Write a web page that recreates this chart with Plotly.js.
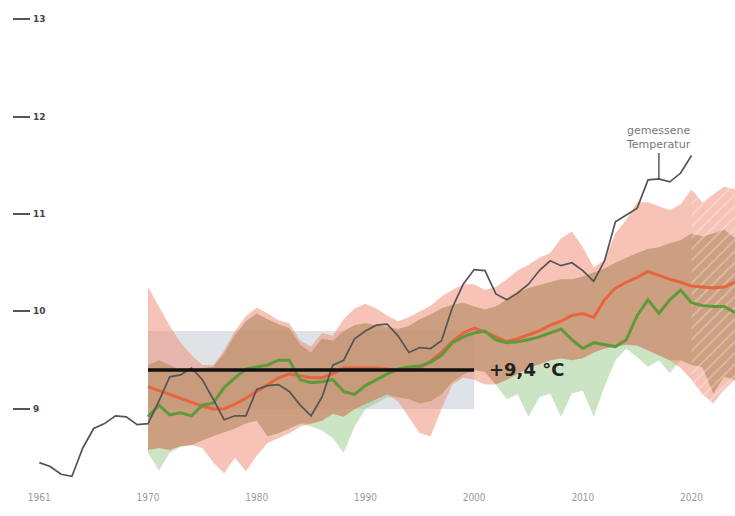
<!DOCTYPE html>
<html><head><meta charset="utf-8">
<script src="https://cdn.plot.ly/plotly-3.0.1.min.js"></script>
<style>html,body{margin:0;padding:0;background:#fff}#chart{width:735px;height:516px}</style>
</head><body><div id="chart"></div>
<script>
// ---------- data ----------
const xTickVals = [1960, 1970, 1980, 1990, 2000, 2010, 2020];
const xTickText = ['1961', '1970', '1980', '1990', '2000', '2010', '2020'];
const yTickVals = [9, 10, 11, 12, 13];

const measuredFirstYear = 1960;
const measured = [8.45, 8.41, 8.33, 8.31, 8.60, 8.80, 8.85, 8.93, 8.92, 8.84,
  8.85, 9.08, 9.33, 9.35, 9.42, 9.30, 9.10, 8.89, 8.93, 8.93,
  9.20, 9.24, 9.25, 9.18, 9.04, 8.93, 9.12, 9.45, 9.50, 9.72,
  9.80, 9.86, 9.87, 9.75, 9.58, 9.63, 9.62, 9.70, 10.04, 10.28,
  10.43, 10.42, 10.18, 10.12, 10.19, 10.28, 10.42, 10.52, 10.47, 10.50,
  10.42, 10.31, 10.52, 10.92, 10.99, 11.06, 11.35, 11.36, 11.33, 11.42,
  11.60];

const modelFirstYear = 1970;
const redMean = [9.23, 9.19, 9.15, 9.11, 9.07, 9.03, 9.00, 9.00, 9.05, 9.11,
  9.18, 9.25, 9.32, 9.36, 9.34, 9.32, 9.32, 9.36, 9.42, 9.42,
  9.42, 9.42, 9.41, 9.40, 9.40, 9.42, 9.49, 9.58, 9.69, 9.78,
  9.83, 9.79, 9.74, 9.69, 9.72, 9.76, 9.80, 9.86, 9.90, 9.96,
  9.98, 9.94, 10.12, 10.24, 10.30, 10.35, 10.41, 10.37, 10.33, 10.30,
  10.26, 10.25, 10.24, 10.25, 10.30];
const redHi = [10.25, 10.05, 9.85, 9.68, 9.55, 9.45, 9.45, 9.60, 9.80, 9.95,
  10.04, 9.98, 9.91, 9.88, 9.70, 9.64, 9.78, 9.75, 9.92, 10.03,
  10.08, 10.03, 9.96, 9.90, 9.94, 10.00, 10.06, 10.15, 10.22, 10.28,
  10.28, 10.22, 10.25, 10.33, 10.42, 10.48, 10.55, 10.60, 10.75, 10.82,
  10.66, 10.45, 10.53, 10.80, 10.94, 11.12, 11.12, 11.08, 11.04, 11.10,
  11.25, 11.12, 11.20, 11.28, 11.25];
const redLo = [8.58, 8.60, 8.58, 8.62, 8.63, 8.60, 8.45, 8.34, 8.50, 8.36,
  8.52, 8.65, 8.70, 8.75, 8.82, 8.85, 8.88, 8.95, 8.92, 9.00,
  9.05, 9.10, 9.15, 9.08, 8.92, 8.75, 8.72, 9.00, 9.25, 9.32,
  9.30, 9.25, 9.25, 9.30, 9.36, 9.42, 9.46, 9.50, 9.52, 9.50,
  9.52, 9.58, 9.62, 9.64, 9.66, 9.65, 9.60, 9.55, 9.50, 9.42,
  9.30, 9.15, 9.06, 9.20, 9.30];

const greenMean = [8.92, 9.04, 8.94, 8.96, 8.93, 9.04, 9.06, 9.22, 9.32, 9.41,
  9.43, 9.45, 9.50, 9.50, 9.30, 9.27, 9.28, 9.30, 9.18, 9.15,
  9.24, 9.30, 9.36, 9.41, 9.43, 9.44, 9.48, 9.55, 9.68, 9.74,
  9.78, 9.80, 9.71, 9.68, 9.69, 9.71, 9.74, 9.78, 9.82, 9.71,
  9.62, 9.68, 9.66, 9.64, 9.71, 9.96, 10.12, 9.98, 10.12, 10.22,
  10.09, 10.06, 10.05, 10.05, 9.99];
const greenHi = [9.45, 9.50, 9.45, 9.40, 9.38, 9.42, 9.43, 9.57, 9.76, 9.90,
  9.98, 9.92, 9.87, 9.83, 9.66, 9.58, 9.72, 9.70, 9.80, 9.86,
  9.88, 9.86, 9.84, 9.82, 9.85, 9.92, 9.97, 10.03, 10.07, 10.09,
  10.05, 10.02, 10.05, 10.12, 10.19, 10.24, 10.27, 10.30, 10.33, 10.33,
  10.36, 10.40, 10.44, 10.50, 10.55, 10.60, 10.64, 10.66, 10.70, 10.73,
  10.80, 10.77, 10.80, 10.84, 10.75];
const greenLo = [8.55, 8.37, 8.55, 8.61, 8.63, 8.68, 8.72, 8.76, 8.80, 8.85,
  8.88, 8.72, 8.75, 8.80, 8.85, 8.82, 8.78, 8.70, 8.55, 8.82,
  9.00, 9.06, 9.12, 9.12, 9.10, 9.06, 9.08, 9.15, 9.28, 9.35,
  9.40, 9.38, 9.25, 9.10, 9.15, 8.92, 9.12, 9.16, 8.92, 9.16,
  9.19, 8.92, 9.23, 9.50, 9.62, 9.53, 9.43, 9.50, 9.37, 9.50,
  9.45, 9.43, 9.16, 9.33, 9.30];

const refPeriod = [1970, 2000];
const refRange = [9.0, 9.8];
const refMean = 9.4;
const refLabel = '+9,4 °C';
const measuredLabel = 'gemessene<br>Temperatur';
const measuredLabelYear = 2017;
const hatchFromYear = 2020;

// ---------- derived (library input) ----------
const yrs = (first, n) => Array.from({length: n}, (_, i) => first + i);
const mYears = yrs(measuredFirstYear, measured.length);
const sYears = yrs(modelFirstYear, redMean.length);
const ovLo = sYears.map((_, i) => Math.max(redLo[i], greenLo[i]));
const ovHi = sYears.map((_, i) => Math.max(ovLo[i], Math.min(redHi[i], greenHi[i])));
const hIdx = sYears.map((y, i) => y >= hatchFromYear ? i : -1).filter(i => i >= 0);
const hYears = hIdx.map(i => sYears[i]);
const hLo = hIdx.map(i => Math.min(redLo[i], greenLo[i]));
const hHi = hIdx.map(i => Math.max(redHi[i], greenHi[i]));

const noLine = {width: 0};
const base = {type: 'scatter', mode: 'lines', hoverinfo: 'skip', showlegend: false};

const traces = [
  Object.assign({}, base, {x: sYears, y: greenLo, line: noLine}),
  Object.assign({}, base, {x: sYears, y: greenHi, line: noLine, fill: 'tonexty', fillcolor: 'rgba(140,195,125,0.45)'}),
  Object.assign({}, base, {x: sYears, y: redLo, line: noLine}),
  Object.assign({}, base, {x: sYears, y: redHi, line: noLine, fill: 'tonexty', fillcolor: 'rgba(238,135,110,0.5)'}),
  Object.assign({}, base, {x: sYears, y: ovLo, line: noLine}),
  Object.assign({}, base, {x: sYears, y: ovHi, line: noLine, fill: 'tonexty', fillcolor: 'rgba(190,140,105,0.55)'}),
  Object.assign({}, base, {x: hYears, y: hLo, line: noLine}),
  Object.assign({}, base, {x: hYears, y: hHi, line: noLine, fill: 'tonexty', fillcolor: 'rgba(0,0,0,0)',
    fillpattern: {shape: '/', fgcolor: 'rgba(255,255,255,0.33)', bgcolor: 'rgba(0,0,0,0)', size: 8, solidity: 0.2}}),
  Object.assign({}, base, {x: sYears, y: redMean, line: {color: '#e8643e', width: 3}}),
  Object.assign({}, base, {x: sYears, y: greenMean, line: {color: '#5e9a3c', width: 3}}),
  Object.assign({}, base, {x: mYears, y: measured, line: {color: '#555555', width: 1.7}}),
  Object.assign({}, base, {x: refPeriod, y: [refMean, refMean], line: {color: '#111111', width: 3.5}})
];

const yTickAnnotations = yTickVals.map(v => ({
  xref: 'paper', x: 0, xanchor: 'left', xshift: 18, yref: 'y', y: v, yanchor: 'middle',
  text: String(v), showarrow: false,
  font: {family: 'DejaVu Sans', size: 9, color: '#444444', weight: 'bold'}
}));

const layout = {
  width: 735, height: 516,
  margin: {l: 13, r: 0, t: 0, b: 34, pad: 0},
  paper_bgcolor: '#ffffff', plot_bgcolor: '#ffffff',
  showlegend: false,
  xaxis: {
    range: [1957.58, 2024], tickvals: xTickVals, ticktext: xTickText,
    showgrid: false, zeroline: false, showline: false, ticks: '',
    ticklabelstandoff: 8,
    tickfont: {family: 'DejaVu Sans Condensed, DejaVu Sans', size: 10, color: '#9a9a9a'},
    fixedrange: true
  },
  yaxis: {
    range: [8.251, 13.195], tickvals: yTickVals,
    ticks: 'inside', ticklen: 17, tickwidth: 2, tickcolor: '#555555',
    showticklabels: false,
    showgrid: false, zeroline: false, showline: false,
    fixedrange: true
  },
  shapes: [{
    type: 'rect', xref: 'x', yref: 'y', layer: 'below',
    x0: refPeriod[0], x1: refPeriod[1], y0: refRange[0], y1: refRange[1],
    fillcolor: 'rgba(185,192,205,0.45)', line: {width: 0}
  }],
  annotations: yTickAnnotations.concat([
    {x: refPeriod[1] + 1.2, y: refMean, xref: 'x', yref: 'y', text: refLabel, showarrow: false,
     xanchor: 'left', yanchor: 'middle',
     font: {family: 'DejaVu Sans', size: 18, color: '#222222', weight: 'bold'}},
    {x: measuredLabelYear, y: measured[measuredLabelYear - measuredFirstYear], xref: 'x', yref: 'y',
     text: measuredLabel, showarrow: true, arrowhead: 0, arrowwidth: 1.3, arrowcolor: '#444444',
     ax: 0, ay: -26, yanchor: 'bottom', xanchor: 'center',
     font: {family: 'DejaVu Sans', size: 11, color: '#777777'}}
  ])
};

Plotly.newPlot('chart', traces, layout, {staticPlot: true, displayModeBar: false});
</script>
</body></html>
